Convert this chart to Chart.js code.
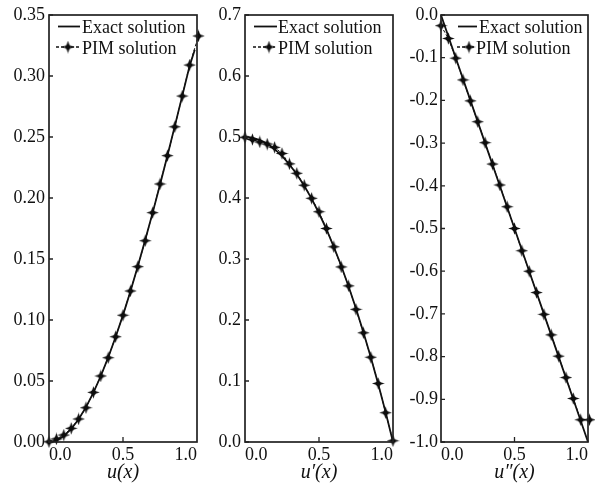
<!DOCTYPE html>
<html><head><meta charset="utf-8">
<script src="https://cdn.jsdelivr.net/npm/chart.js@4/dist/chart.umd.min.js"></script>
<style>
html,body{margin:0;padding:0;background:#fff;overflow:hidden;width:595px;height:487px;position:relative;}
.p{position:absolute;top:0;height:487px;}
canvas{display:block;}
</style></head><body>
<div class="p" style="left:0px;width:215px"><canvas id="c1" width="215" height="487"></canvas></div>
<div class="p" style="left:196px;width:215px"><canvas id="c2" width="215" height="487"></canvas></div>
<div class="p" style="left:392px;width:215px"><canvas id="c3" width="215" height="487"></canvas></div>
<script>
// ---------- data ----------
const seriesNames = ['Exact solution', 'PIM solution'];

// Panel 1 : u(x)
const x1Exact = [0,0.05,0.1,0.15,0.2,0.25,0.3,0.35,0.4,0.45,0.5,0.55,0.6,0.65,0.7,0.75,0.8,0.85,0.9,0.95,0.985];
const y1Exact = [0,0.0012,0.0048,0.0107,0.0187,0.0286,0.0405,0.0541,0.0693,0.0861,0.1040,0.1234,0.1440,0.1655,0.1878,0.2109,0.2347,0.2589,0.2835,0.3083,0.3215];
const x1Pim = [0,0.05,0.1,0.15,0.2,0.25,0.3,0.35,0.4,0.45,0.5,0.55,0.6,0.65,0.7,0.75,0.8,0.85,0.9,0.95,1.01];
const y1Pim = [0.0002,0.0025,0.0057,0.0112,0.0189,0.0281,0.0407,0.0541,0.0691,0.0863,0.1039,0.1238,0.1437,0.1650,0.1880,0.2115,0.2347,0.2584,0.2836,0.3090,0.3328];

// Panel 2 : u'(x)
const x2Exact = [0,0.05,0.1,0.15,0.2,0.25,0.3,0.35,0.4,0.45,0.5,0.55,0.6,0.65,0.7,0.75,0.8,0.85,0.9,0.95,1.0];
const y2Exact = [0.500,0.499,0.495,0.489,0.480,0.469,0.455,0.439,0.420,0.399,0.375,0.349,0.320,0.289,0.255,0.219,0.180,0.139,0.095,0.049,0.000];
const x2Pim = [0,0.05,0.1,0.15,0.2,0.25,0.3,0.35,0.4,0.45,0.5,0.55,0.6,0.65,0.7,0.75,0.8,0.85,0.9,0.95,1.0];
const y2Pim = [0.4995,0.496,0.492,0.4885,0.483,0.473,0.456,0.4405,0.421,0.3995,0.3775,0.350,0.320,0.287,0.256,0.2175,0.179,0.139,0.096,0.048,0.002];

// Panel 3 : u''(x)
const x3Exact = [0,0.1,0.2,0.3,0.4,0.5,0.6,0.7,0.8,0.9,1.0];
const y3Exact = [0,-0.1,-0.2,-0.3,-0.4,-0.5,-0.6,-0.7,-0.8,-0.9,-1.0];
const x3Pim = [0,0.05,0.1,0.15,0.2,0.25,0.3,0.35,0.4,0.45,0.5,0.55,0.6,0.65,0.7,0.75,0.8,0.85,0.9,0.95,1.01];
const y3Pim = [-0.025,-0.055,-0.101,-0.152,-0.201,-0.250,-0.299,-0.349,-0.398,-0.449,-0.500,-0.552,-0.600,-0.650,-0.701,-0.749,-0.799,-0.849,-0.898,-0.948,-0.948];

// ticks
const xTicks = [0, 0.5, 1.0];
const xTickLabels = ['0.0', '0.5', '1.0'];
const y1Ticks = [0,0.05,0.10,0.15,0.20,0.25,0.30,0.35];
const y1TickLabels = ['0.00','0.05','0.10','0.15','0.20','0.25','0.30','0.35'];
const y2Ticks = [0,0.1,0.2,0.3,0.4,0.5,0.6,0.7];
const y2TickLabels = ['0.0','0.1','0.2','0.3','0.4','0.5','0.6','0.7'];
const y3Ticks = [-1.0,-0.9,-0.8,-0.7,-0.6,-0.5,-0.4,-0.3,-0.2,-0.1,0.0];
const y3TickLabels = ['-1.0','-0.9','-0.8','-0.7','-0.6','-0.5','-0.4','-0.3','-0.2','-0.1','0.0'];
const axisTitles = ['u(x)', 'u\u2032(x)', 'u\u2033(x)'];

// ---------- styling ----------
const FONT = "'Liberation Serif', 'Times New Roman', serif";
const INK = '#111';
Chart.defaults.font.family = FONT;
Chart.defaults.font.size = 18;
Chart.defaults.color = INK;

// star-like PIM marker (4 points with concave sides)
function makeMarker(size) {
  const c = document.createElement('canvas');
  c.width = size; c.height = size;
  const g = c.getContext('2d');
  const m = size / 2, R = size / 2 - 0.2, r = size * 0.17;
  g.fillStyle = '#0d0d0d';
  g.beginPath();
  for (let k = 0; k < 8; k++) {
    const a = k * Math.PI / 4;
    const rad = (k % 2 === 0) ? R : r;
    const px = m + rad * Math.cos(a), py = m + rad * Math.sin(a);
    if (k === 0) g.moveTo(px, py); else g.lineTo(px, py);
  }
  g.closePath();
  g.fill();
  g.beginPath(); g.arc(m, m, size * 0.2, 0, Math.PI * 2); g.fill();
  return c;
}
const marker = makeMarker(13);

const pts = (xs, ys) => xs.map((x, i) => ({x: x, y: ys[i]}));

const framePlugin = {
  id: 'frameAndLegend',
  afterDraw(chart, args, o) {
    const ctx = chart.ctx, a = chart.chartArea;
    const ys = chart.scales.y, xs = chart.scales.x;
    ctx.save();
    ctx.strokeStyle = '#222';
    ctx.lineWidth = 1.7;
    ctx.strokeRect(a.left, a.top, a.right - a.left, a.bottom - a.top);
    ctx.lineWidth = 1.3;
    ctx.beginPath();
    o.yTicks.forEach(v => {
      const py = ys.getPixelForValue(v);
      ctx.moveTo(a.left, py); ctx.lineTo(a.left + 4, py);
    });
    const px = xs.getPixelForValue(0.5);
    ctx.moveTo(px, a.bottom); ctx.lineTo(px, a.bottom - 5);
    ctx.stroke();
    // legend
    const L = a.left;
    ctx.strokeStyle = '#111';
    ctx.lineWidth = 1.8;
    ctx.beginPath();
    ctx.moveTo(L + o.l1, 26.5); ctx.lineTo(L + o.l2, 26.5);
    ctx.stroke();
    ctx.lineWidth = 1.3;
    ctx.setLineDash([3, 2]);
    ctx.beginPath();
    ctx.moveTo(L + o.d1, 47); ctx.lineTo(L + o.d2, 47);
    ctx.stroke();
    ctx.setLineDash([]);
    ctx.drawImage(marker, L + o.mk - marker.width / 2, 47 - marker.height / 2);
    ctx.fillStyle = INK;
    ctx.font = '18px ' + FONT;
    ctx.textBaseline = 'alphabetic';
    ctx.textAlign = 'left';
    ctx.fillText(seriesNames[0], L + o.t1, 33);
    ctx.fillText(seriesNames[1], L + o.t2, 53.5);
    ctx.restore();
  }
};

function makeChart(id, p) {
  new Chart(document.getElementById(id), {
    type: 'line',
    data: {
      datasets: [
        {
          label: seriesNames[1],
          data: pts(p.xp, p.yp),
          borderColor: '#111',
          borderWidth: 1,
          borderDash: [3, 2],
          pointStyle: marker,
          pointRadius: 6,
          clip: false,
          tension: 0
        },
        {
          label: seriesNames[0],
          data: pts(p.xe, p.ye),
          borderColor: '#111',
          borderWidth: 1.8,
          pointRadius: 0,
          clip: false,
          tension: 0
        }
      ]
    },
    options: {
      responsive: false,
      animation: false,
      events: [],
      layout: { padding: { left: 0, right: p.padR, top: 15, bottom: 0 } },
      plugins: {
        legend: { display: false },
        tooltip: { enabled: false },
        frameAndLegend: Object.assign({ yTicks: p.yTicks }, p.leg)
      },
      scales: {
        x: {
          type: 'linear', min: 0, max: 1,
          afterBuildTicks: s => { s.ticks = xTicks.map(v => ({ value: v })); },
          afterFit: s => { s.height = 45; },
          grid: { display: false, drawTicks: false },
          border: { display: false },
          ticks: {
            align: 'inner', padding: 2, maxRotation: 0, autoSkip: false,
            callback: (v, i) => xTickLabels[i]
          },
          title: {
            display: true, text: p.title, color: INK,
            font: { family: FONT, size: 20, style: 'italic' },
            padding: { top: 0, bottom: 2 }
          }
        },
        y: {
          type: 'linear', min: p.yMin, max: p.yMax,
          afterBuildTicks: s => { s.ticks = p.yTicks.map(v => ({ value: v })); },
          afterFit: s => { s.width = 49; },
          grid: { display: false, drawTicks: false },
          border: { display: false },
          ticks: { padding: p.yPad, autoSkip: false, callback: (v, i) => p.yLabels[i] }
        }
      }
    },
    plugins: [framePlugin]
  });
}

makeChart('c1', {
  xe: x1Exact, ye: y1Exact, xp: x1Pim, yp: y1Pim,
  yMin: 0, yMax: 0.35, yTicks: y1Ticks, yLabels: y1TickLabels,
  title: axisTitles[0], padR: 18, yPad: 4,
  leg: { l1: 9, l2: 31, d1: 7, d2: 30, mk: 19, t1: 33, t2: 33 }
});
makeChart('c2', {
  xe: x2Exact, ye: y2Exact, xp: x2Pim, yp: y2Pim,
  yMin: 0, yMax: 0.7, yTicks: y2Ticks, yLabels: y2TickLabels,
  title: axisTitles[1], padR: 18, yPad: 4,
  leg: { l1: 9, l2: 32, d1: 8, d2: 30, mk: 24, t1: 33, t2: 33 }
});
makeChart('c3', {
  xe: x3Exact, ye: y3Exact, xp: x3Pim, yp: y3Pim,
  yMin: -1.0, yMax: 0.0, yTicks: y3Ticks, yLabels: y3TickLabels,
  title: axisTitles[2], padR: 19, yPad: 3,
  leg: { l1: 17, l2: 36, d1: 16, d2: 33, mk: 28, t1: 38, t2: 35 }
});
</script>
</body></html>
